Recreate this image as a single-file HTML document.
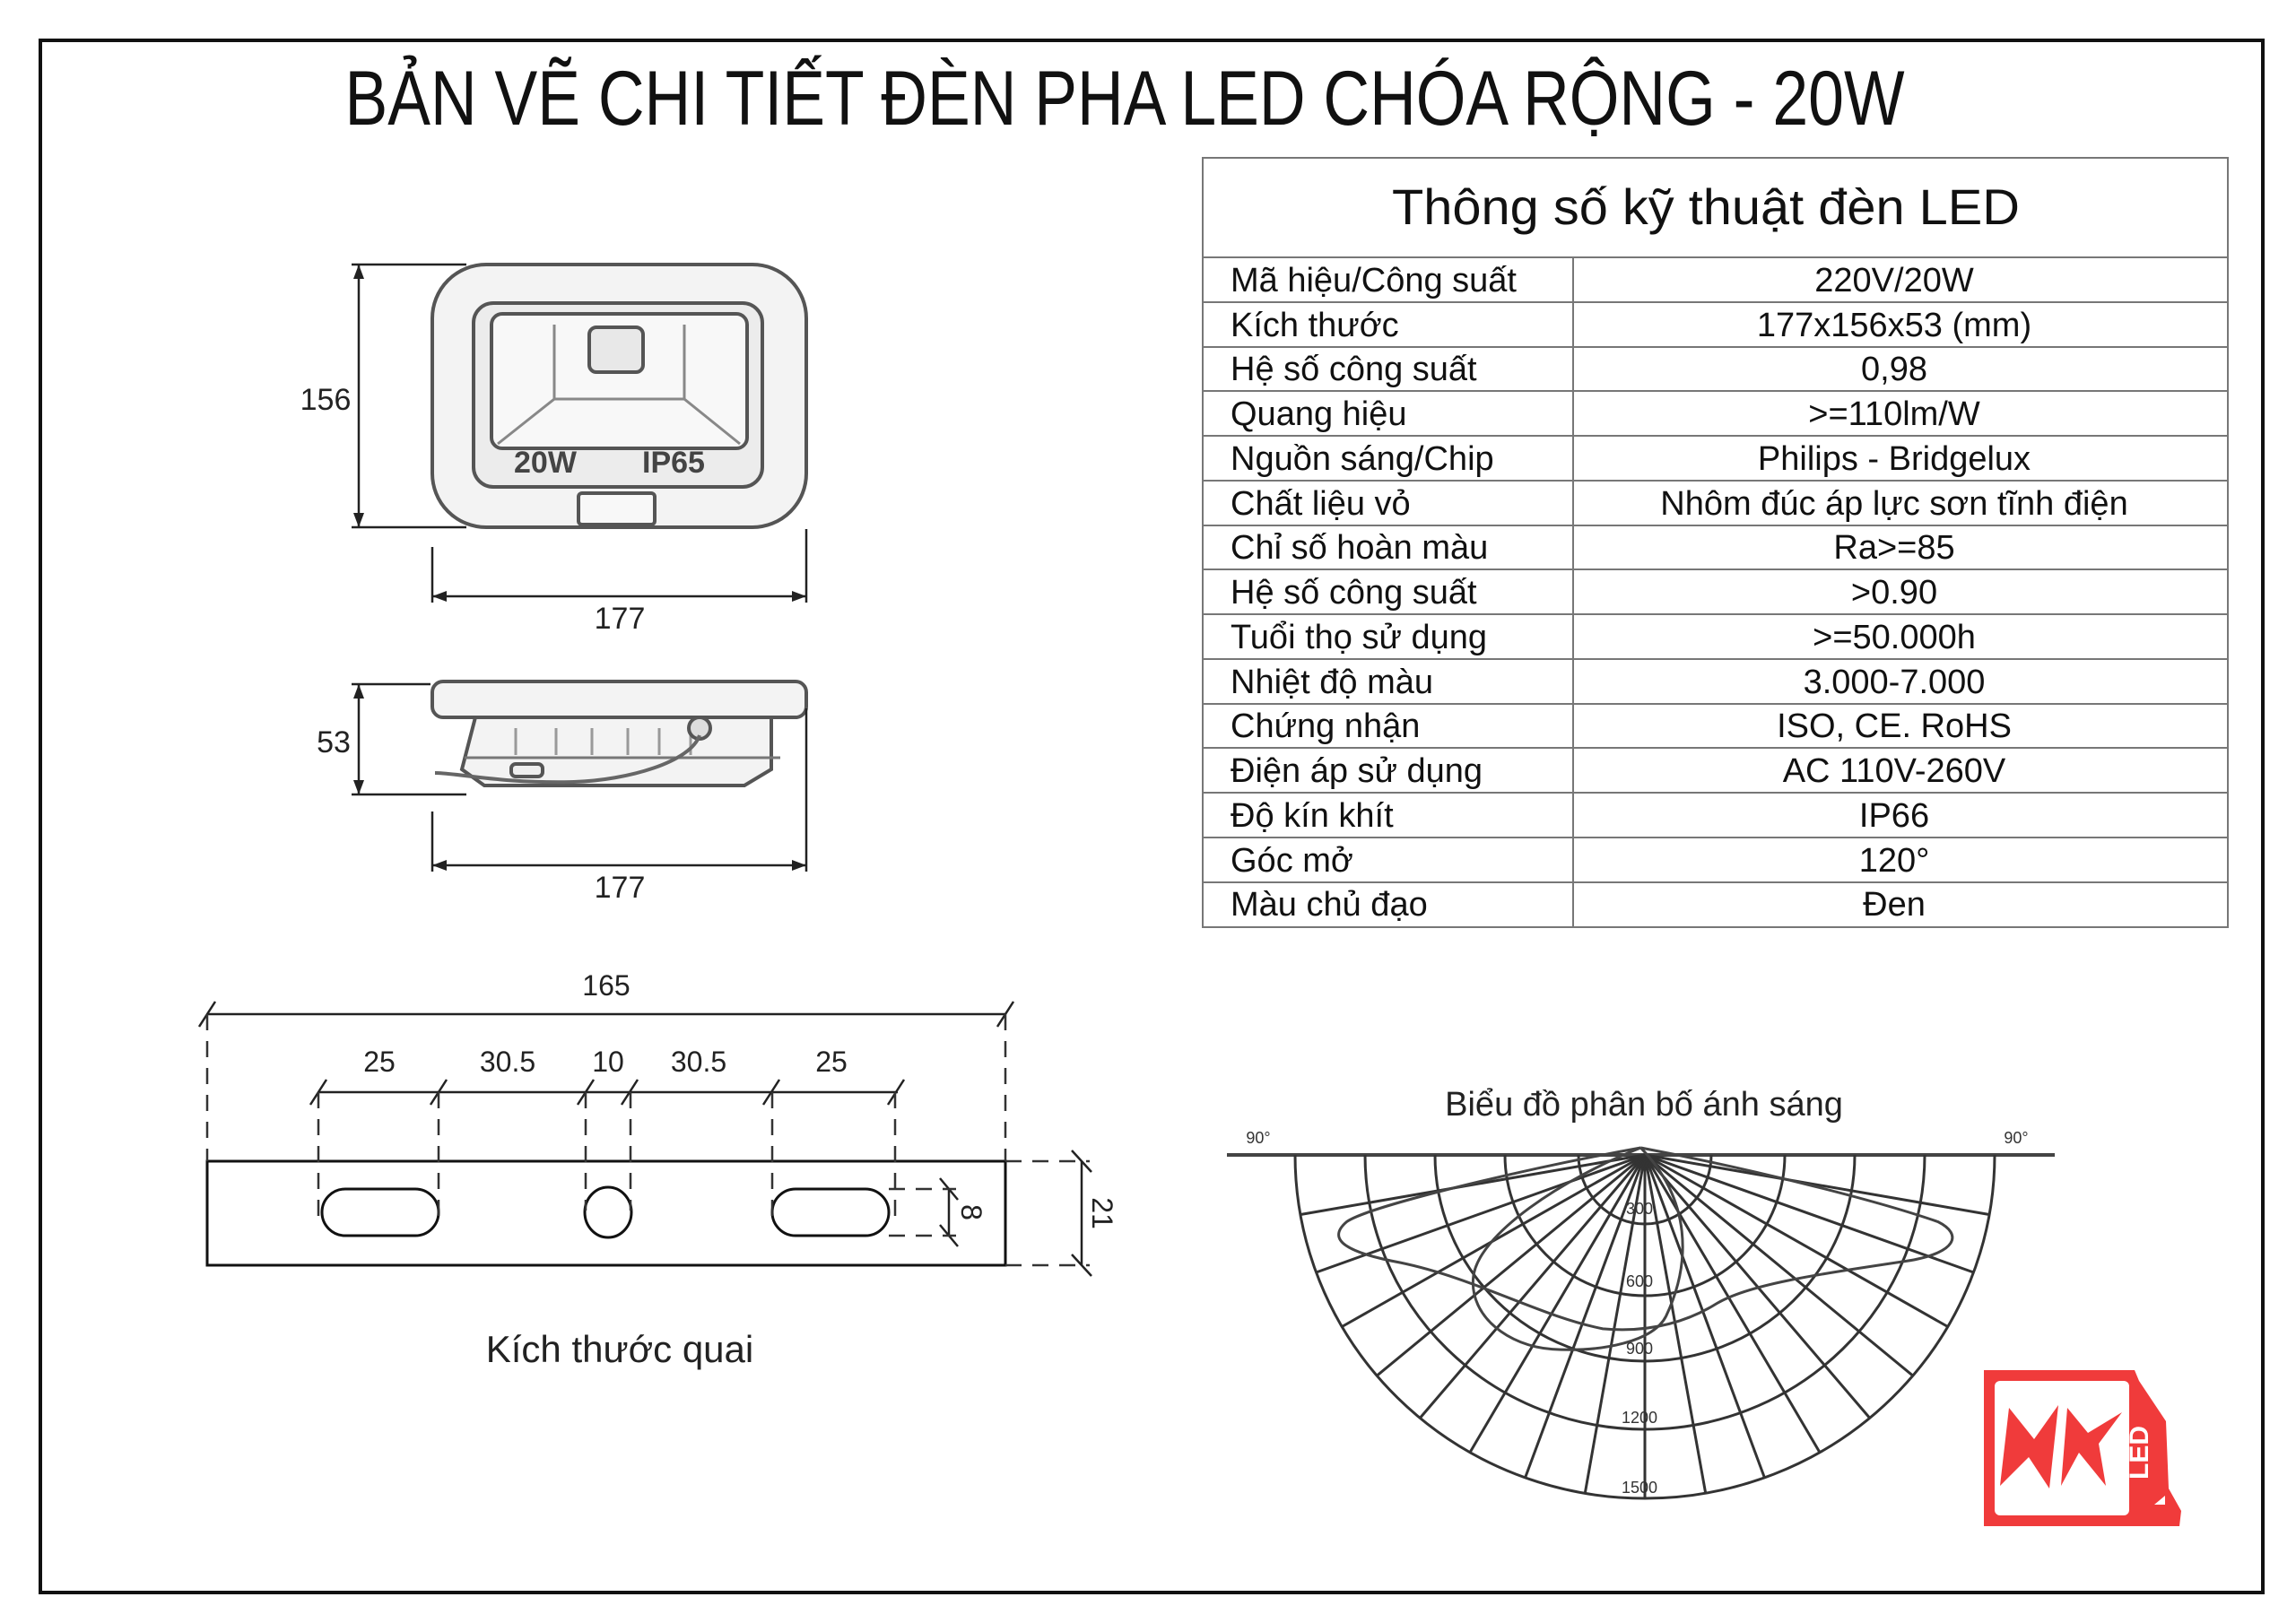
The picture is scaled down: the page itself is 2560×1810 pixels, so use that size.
<!DOCTYPE html>
<html><head><meta charset="utf-8"><style>
html,body{margin:0;padding:0;background:#fff;}
svg{display:block;}
text{font-family:"Liberation Sans","DejaVu Sans",sans-serif;}
</style></head><body>
<svg width="2560" height="1810" viewBox="0 0 2560 1810" xmlns="http://www.w3.org/2000/svg">
<rect x="0" y="0" width="2560" height="1810" fill="#fff"/>
<rect x="45" y="45" width="2478" height="1731" fill="none" stroke="#111" stroke-width="4"/>
<text x="1254" y="139" font-size="86" text-anchor="middle" textLength="1739" lengthAdjust="spacingAndGlyphs" fill="#111">BẢN VẼ CHI TIẾT ĐÈN PHA LED CHÓA RỘNG - 20W</text>

<!-- Table -->
<g stroke="#777" stroke-width="2" fill="none">
<rect x="1341" y="176" width="1143" height="858"/>
<line x1="1341" y1="287" x2="2484" y2="287"/>
<line x1="1754" y1="287" x2="1754" y2="1034"/>
<line x1="1341" y1="337" x2="2484" y2="337"/>
<line x1="1341" y1="387" x2="2484" y2="387"/>
<line x1="1341" y1="436" x2="2484" y2="436"/>
<line x1="1341" y1="486" x2="2484" y2="486"/>
<line x1="1341" y1="536" x2="2484" y2="536"/>
<line x1="1341" y1="586" x2="2484" y2="586"/>
<line x1="1341" y1="635" x2="2484" y2="635"/>
<line x1="1341" y1="685" x2="2484" y2="685"/>
<line x1="1341" y1="735" x2="2484" y2="735"/>
<line x1="1341" y1="785" x2="2484" y2="785"/>
<line x1="1341" y1="834" x2="2484" y2="834"/>
<line x1="1341" y1="884" x2="2484" y2="884"/>
<line x1="1341" y1="934" x2="2484" y2="934"/>
<line x1="1341" y1="984" x2="2484" y2="984"/>
</g>
<text x="1902" y="250" font-size="56" text-anchor="middle" textLength="700" lengthAdjust="spacingAndGlyphs" fill="#111">Thông số kỹ thuật đèn LED</text>
<g font-size="38" fill="#111">
<text x="1372" y="325">Mã hiệu/Công suất</text>
<text x="1372" y="375">Kích thước</text>
<text x="1372" y="424">Hệ số công suất</text>
<text x="1372" y="474">Quang hiệu</text>
<text x="1372" y="524">Nguồn sáng/Chip</text>
<text x="1372" y="574">Chất liệu vỏ</text>
<text x="1372" y="623">Chỉ số hoàn màu</text>
<text x="1372" y="673">Hệ số công suất</text>
<text x="1372" y="723">Tuổi thọ sử dụng</text>
<text x="1372" y="773">Nhiệt độ màu</text>
<text x="1372" y="822">Chứng nhận</text>
<text x="1372" y="872">Điện áp sử dụng</text>
<text x="1372" y="922">Độ kín khít</text>
<text x="1372" y="972">Góc mở</text>
<text x="1372" y="1021">Màu chủ đạo</text>
</g>
<g font-size="38" fill="#111" text-anchor="middle">
<text x="2112" y="325">220V/20W</text>
<text x="2112" y="375">177x156x53 (mm)</text>
<text x="2112" y="424">0,98</text>
<text x="2112" y="474">&gt;=110lm/W</text>
<text x="2112" y="524">Philips - Bridgelux</text>
<text x="2112" y="574">Nhôm đúc áp lực sơn tĩnh điện</text>
<text x="2112" y="623">Ra&gt;=85</text>
<text x="2112" y="673">&gt;0.90</text>
<text x="2112" y="723">&gt;=50.000h</text>
<text x="2112" y="773">3.000-7.000</text>
<text x="2112" y="822">ISO, CE. RoHS</text>
<text x="2112" y="872">AC 110V-260V</text>
<text x="2112" y="922">IP66</text>
<text x="2112" y="972">120°</text>
<text x="2112" y="1021">Đen</text>
</g>

<!-- Lamp top view -->
<g stroke="#555" stroke-width="4" fill="#f3f3f3">
<rect x="482" y="295" width="417" height="293" rx="60"/>
<rect x="528" y="338" width="322" height="205" rx="22" fill="#ececec"/>
<rect x="548" y="350" width="285" height="150" rx="12" fill="#f8f8f8"/>
<path d="M618 362 L618 445 L555 495 M763 362 L763 445 L825 495 M618 445 L763 445" fill="none" stroke="#888" stroke-width="3"/>
<rect x="657" y="365" width="60" height="50" rx="8" fill="#e8e8e8"/>
<rect x="645" y="550" width="85" height="35" rx="4" fill="#f8f8f8"/>
</g>
<text x="573" y="527" font-size="34" font-weight="bold" font-family="Liberation Serif,serif" fill="#444">20W</text>
<text x="716" y="527" font-size="34" font-weight="bold" font-family="Liberation Serif,serif" fill="#444">IP65</text>

<!-- Lamp side view -->
<g stroke="#555" stroke-width="4" fill="#f3f3f3">
<rect x="482" y="760" width="417" height="40" rx="12"/>
<path d="M530 800 L860 800 L860 858 L830 876 L540 876 L515 858 Z"/>
<path d="M518 845 L870 845" fill="none" stroke="#777" stroke-width="3"/>
<path d="M575 812 v30 M620 812 v30 M660 812 v30 M700 812 v30 M735 812 v30 M770 812 v30" stroke="#999" stroke-width="3"/>
<circle cx="780" cy="812" r="12" fill="#ddd"/>
<path d="M780 820 C770 850 700 870 640 872 C560 874 510 862 485 862" fill="none" stroke="#666" stroke-width="4"/>
<rect x="570" y="852" width="35" height="14" rx="5" fill="#eee"/>
</g>

<!-- Dimensions lamp -->
<g stroke="#222" stroke-width="2.5" fill="none">
<line x1="400" y1="295" x2="400" y2="588"/>
<line x1="392" y1="295" x2="520" y2="295"/>
<line x1="392" y1="588" x2="520" y2="588"/>
<line x1="482" y1="610" x2="482" y2="672"/>
<line x1="899" y1="590" x2="899" y2="672"/>
<line x1="482" y1="665" x2="899" y2="665"/>
<line x1="400" y1="763" x2="400" y2="886"/>
<line x1="392" y1="763" x2="480" y2="763"/>
<line x1="392" y1="886" x2="520" y2="886"/>
<line x1="482" y1="905" x2="482" y2="972"/>
<line x1="899" y1="790" x2="899" y2="972"/>
<line x1="482" y1="965" x2="899" y2="965"/>
</g>
<g fill="#222">
<path d="M400 295 l-6 16 h12z"/><path d="M400 588 l-6 -16 h12z"/>
<path d="M482 665 l16 -6 v12z"/><path d="M899 665 l-16 -6 v12z"/>
<path d="M400 763 l-6 16 h12z"/><path d="M400 886 l-6 -16 h12z"/>
<path d="M482 965 l16 -6 v12z"/><path d="M899 965 l-16 -6 v12z"/>
</g>
<g font-size="34" fill="#222" text-anchor="middle">
<text x="363" y="457">156</text>
<text x="691" y="701">177</text>
<text x="372" y="839">53</text>
<text x="691" y="1001">177</text>
</g>

<!-- Handle -->
<g stroke="#111" stroke-width="3" fill="none">
<rect x="231" y="1295" width="890" height="116"/>
<rect x="359" y="1326" width="130" height="52" rx="26"/>
<ellipse cx="678" cy="1352" rx="26" ry="28"/>
<rect x="861" y="1326" width="130" height="52" rx="26"/>
</g>
<g stroke="#222" stroke-width="2.5" fill="none">
<line x1="231" y1="1131" x2="1121" y2="1131"/>
<line x1="222" y1="1145" x2="240" y2="1117"/><line x1="1112" y1="1145" x2="1130" y2="1117"/>
<line x1="355" y1="1218" x2="1001" y2="1218"/>
<line x1="346" y1="1232" x2="364" y2="1204"/>
<line x1="480" y1="1232" x2="498" y2="1204"/>
<line x1="644" y1="1232" x2="662" y2="1204"/>
<line x1="693" y1="1232" x2="711" y2="1204"/>
<line x1="851" y1="1232" x2="869" y2="1204"/>
<line x1="990" y1="1232" x2="1008" y2="1204"/>
<line x1="1206" y1="1295" x2="1206" y2="1411"/>
<line x1="1195" y1="1283" x2="1217" y2="1307"/><line x1="1195" y1="1399" x2="1217" y2="1423"/>
<line x1="1058" y1="1326" x2="1058" y2="1378"/>
<line x1="1048" y1="1314" x2="1068" y2="1338"/><line x1="1048" y1="1366" x2="1068" y2="1390"/>
</g>
<g stroke="#333" stroke-width="2.5" fill="none" stroke-dasharray="18 12">
<line x1="231" y1="1131" x2="231" y2="1295"/>
<line x1="1121" y1="1131" x2="1121" y2="1295"/>
<line x1="355" y1="1218" x2="355" y2="1360"/>
<line x1="489" y1="1218" x2="489" y2="1360"/>
<line x1="653" y1="1218" x2="653" y2="1350"/>
<line x1="703" y1="1218" x2="703" y2="1350"/>
<line x1="861" y1="1218" x2="861" y2="1360"/>
<line x1="998" y1="1218" x2="998" y2="1360"/>
<line x1="1121" y1="1295" x2="1215" y2="1295"/>
<line x1="1121" y1="1411" x2="1215" y2="1411"/>
<line x1="991" y1="1326" x2="1066" y2="1326"/>
<line x1="991" y1="1378" x2="1066" y2="1378"/>
</g>
<g font-size="32" fill="#222" text-anchor="middle">
<text x="676" y="1110">165</text>
<text x="423" y="1195">25</text>
<text x="566" y="1195">30.5</text>
<text x="678" y="1195">10</text>
<text x="779" y="1195">30.5</text>
<text x="927" y="1195">25</text>
<text transform="translate(1218,1353) rotate(90)">21</text>
<text transform="translate(1072,1352) rotate(90)">8</text>
</g>
<text x="691" y="1519" font-size="42" text-anchor="middle" fill="#222">Kích thước quai</text>

<!-- Polar diagram -->
<text x="1833" y="1244" font-size="38" text-anchor="middle" fill="#222">Biểu đồ phân bố ánh sáng</text>
<text x="1403" y="1275" font-size="18" text-anchor="middle" fill="#333">90°</text>
<text x="2248" y="1275" font-size="18" text-anchor="middle" fill="#333">90°</text>
<line x1="1368" y1="1288" x2="2291" y2="1288" stroke="#444" stroke-width="4"/>
<g stroke="#333" stroke-width="3" fill="none">
<path d="M1444 1288 A390 383 0 0 0 2224 1288"/>
<path d="M1522 1288 A312 306 0 0 0 2146 1288"/>
<path d="M1600 1288 A234 230 0 0 0 2068 1288"/>
<path d="M1678 1288 A156 157 0 0 0 1990 1288"/>
<path d="M1760 1288 A74 77 0 0 0 1908 1288"/>
<g id="sp">
<line x1="1834" y1="1288" x2="1834" y2="1671"/>
<line x1="1834" y1="1288" x2="1901.7" y2="1665.2"/>
<line x1="1834" y1="1288" x2="1767.3" y2="1665.2"/>
<line x1="1834" y1="1288" x2="1967.4" y2="1647.9"/>
<line x1="1834" y1="1288" x2="1700.6" y2="1647.9"/>
<line x1="1834" y1="1288" x2="2029" y2="1619.7"/>
<line x1="1834" y1="1288" x2="1639" y2="1619.7"/>
<line x1="1834" y1="1288" x2="2084.7" y2="1581.4"/>
<line x1="1834" y1="1288" x2="1583.3" y2="1581.4"/>
<line x1="1834" y1="1288" x2="2132.8" y2="1534.2"/>
<line x1="1834" y1="1288" x2="1535.2" y2="1534.2"/>
<line x1="1834" y1="1288" x2="2171.7" y2="1479.5"/>
<line x1="1834" y1="1288" x2="1496.3" y2="1479.5"/>
<line x1="1834" y1="1288" x2="2200.5" y2="1419"/>
<line x1="1834" y1="1288" x2="1467.5" y2="1419"/>
<line x1="1834" y1="1288" x2="2218" y2="1354.5"/>
<line x1="1834" y1="1288" x2="1450" y2="1354.5"/>
</g>
</g>
<g transform="translate(1350,1180) scale(0.705,0.351)" fill="none" stroke="#444" stroke-width="3">
<path vector-effect="non-scaling-stroke" d="M680,285 C500,350 250,470 215,520 C180,580 220,620 300,650 C420,700 520,820 620,860 C700,875 760,830 800,780 C850,720 950,690 1100,645 C1180,620 1190,560 1150,520 C1050,450 850,350 680,285"/>
<path vector-effect="non-scaling-stroke" d="M680,285 C560,380 420,560 415,700 C410,820 470,915 540,925 C620,935 700,900 720,820 C760,650 760,450 680,285"/>
</g>
<g font-size="18" fill="#333" text-anchor="middle">
<text x="1828" y="1354">300</text>
<text x="1828" y="1435">600</text>
<text x="1828" y="1510">900</text>
<text x="1828" y="1587">1200</text>
<text x="1828" y="1665">1500</text>
</g>

<!-- Logo -->
<g fill="#f03b3b">
<path d="M2212 1528 H2380 L2385 1540 L2415 1585 L2418 1660 L2432 1685 L2430 1702 H2212 Z"/>
</g>
<rect x="2224" y="1540" width="150" height="150" rx="6" fill="#fff"/>
<g fill="#f03b3b">
<path d="M2240 1570 L2268 1605 L2295 1567 L2285 1660 L2262 1625 L2230 1657 Z"/>
<path d="M2305 1570 L2328 1598 L2366 1575 L2340 1610 L2348 1657 L2318 1620 L2298 1657 Z"/>
</g>
<text transform="translate(2395,1620) rotate(-90)" font-size="30" font-weight="bold" fill="#fff" text-anchor="middle">LED</text>
<path d="M2402 1678 l12 -10 v10z" fill="#fff"/>
</svg>
</body></html>
